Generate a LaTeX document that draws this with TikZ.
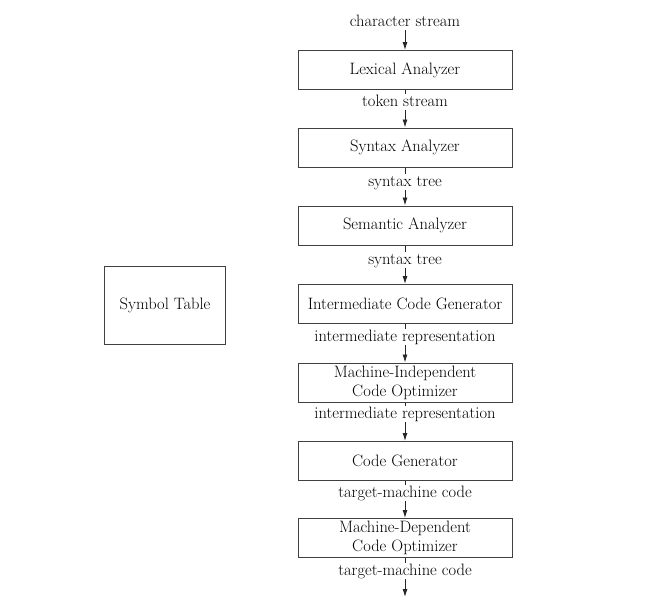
\documentclass[tikz,border=0pt]{standalone}
\usetikzlibrary{arrows.meta}
\begin{document}
\begin{tikzpicture}[x=1pt,y=-1pt,
  phase/.style={draw=black!75, line width=1pt, minimum width=214pt, minimum height=39pt,
    inner sep=0pt, align=center, font=\fontsize{16.5}{19}\selectfont},
  flowlabel/.style={inner sep=1pt, text height=11pt, text depth=3pt, font=\fontsize{16.5}{19}\selectfont},
  flow/.style={line width=0.9pt, draw=black!85},
  arr/.style={flow, -{Latex[length=8pt,width=5pt]}}]
\useasboundingbox (0,0) rectangle (650,606);
% phases
\node[phase] (lex) at (405,70) {Lexical Analyzer};
\node[phase] (syn) at (405,147.5) {Syntax Analyzer};
\node[phase] (sem) at (405,225.5) {Semantic Analyzer};
\node[phase] (icg) at (405,304) {Intermediate Code Generator};
\node[phase] (mio) at (405,382.5) {Machine-Independent\\Code Optimizer};
\node[phase] (cg)  at (405,461) {Code Generator};
\node[phase] (mdo) at (405,538) {Machine-Dependent\\Code Optimizer};
\node[phase, minimum width=121pt, minimum height=78pt] (sym) at (165,305.5) {Symbol Table};
% labels
\node[flowlabel] (l0) at (405,22) {character stream};
\node[flowlabel] (l1) at (405,102) {token stream};
\node[flowlabel] (l2) at (405,182) {syntax tree};
\node[flowlabel] (l3) at (405,260) {syntax tree};
\node[flowlabel] (l4) at (405,337) {intermediate representation};
\node[flowlabel] (l5) at (405,414) {intermediate representation};
\node[flowlabel] (l6) at (405,493) {target-machine code};
\node[flowlabel] (l7) at (405,571) {target-machine code};
\coordinate (out) at (405,597);
% connectors
\draw[arr] (l0) -- (lex);
\draw[flow] (lex) -- (l1);
\draw[arr] (l1) -- (syn);
\draw[flow] (syn) -- (l2);
\draw[arr] (l2) -- (sem);
\draw[flow] (sem) -- (l3);
\draw[arr] (l3) -- (icg);
\draw[flow] (icg) -- (l4);
\draw[arr] (l4) -- (mio);
\draw[flow] (mio) -- (l5);
\draw[arr] (l5) -- (cg);
\draw[flow] (cg) -- (l6);
\draw[arr] (l6) -- (mdo);
\draw[flow] (mdo) -- (l7);
\draw[arr] (l7) -- (out);
\end{tikzpicture}
\end{document}
